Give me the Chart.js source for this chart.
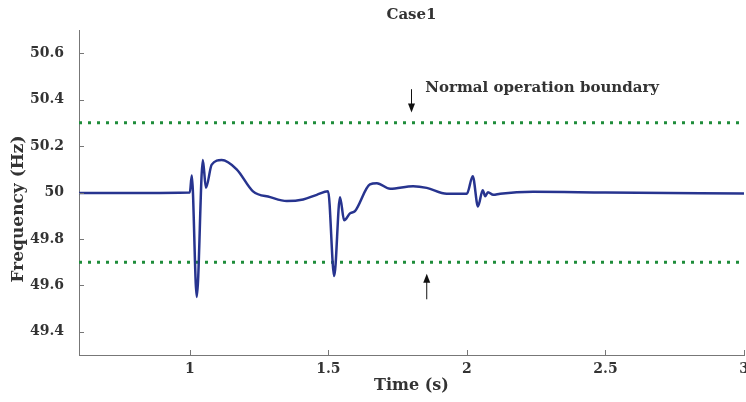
<!DOCTYPE html>
<html>
<head>
<meta charset="utf-8">
<script src="https://cdn.jsdelivr.net/npm/chart.js@4.4.1/dist/chart.umd.min.js"></script>
<style>
  html, body { margin: 0; padding: 0; background: #fff; }
  #wrap { width: 746px; height: 402px; }
</style>
</head>
<body>
<div id="wrap"><canvas id="c"></canvas></div>
<script>
// values
const time = [0.6, 0.8, 1.0, 1.007, 1.025, 1.047, 1.058, 1.079, 1.115, 1.169, 1.228, 1.29, 1.35, 1.409, 1.458, 1.499,
  1.521, 1.542, 1.557, 1.578, 1.596, 1.65, 1.675, 1.723, 1.806, 1.855, 1.927, 2.0, 2.021, 2.04, 2.057, 2.066,
  2.076, 2.095, 2.12, 2.239, 2.5, 3.0];
const freq = [49.998, 49.998, 50.0, 50.073, 49.55, 50.14, 50.02, 50.12, 50.14, 50.10, 50.005, 49.98, 49.963, 49.97, 49.99, 50.005,
  49.64, 49.98, 49.88, 49.91, 49.92, 50.035, 50.04, 50.016, 50.027, 50.02, 49.995, 49.995, 50.07, 49.94, 50.01, 49.984,
  50.001, 49.99, 49.995, 50.003, 50.0, 49.996];
const upperBound = 50.3;
const lowerBound = 49.7;
const xTicks = [1, 1.5, 2, 2.5, 3];
const yTicks = [49.4, 49.6, 49.8, 50, 50.2, 50.4, 50.6];
const titleText = 'Case1';
const yTitle = 'Frequency (Hz)';
const xTitle = 'Time (s)';
const noteText = 'Normal operation boundary';

const serif = '"DejaVu Serif", serif';
const textColor = '#333';

// extra drawing: inward ticks, arrows, note, titles
const extras = {
  id: 'extras',
  afterDraw(chart) {
    const ctx = chart.ctx;
    const xs = chart.scales.x, ys = chart.scales.y;
    const area = chart.chartArea;
    ctx.save();
    // inward tick marks
    ctx.strokeStyle = '#777';
    ctx.lineWidth = 1;
    ctx.beginPath();
    xTicks.forEach(v => {
      const px = Math.round(xs.getPixelForValue(v)) + 0.5;
      ctx.moveTo(px, area.bottom);
      ctx.lineTo(px, area.bottom - 5);
    });
    yTicks.forEach(v => {
      const py = Math.round(ys.getPixelForValue(v)) + 0.5;
      ctx.moveTo(area.left, py);
      ctx.lineTo(area.left + 5, py);
    });
    ctx.stroke();

    // arrows
    function arrow(x, y0, y1) {
      const px = xs.getPixelForValue(x);
      const a = ys.getPixelForValue(y0), b = ys.getPixelForValue(y1);
      const dir = b > a ? 1 : -1;
      ctx.strokeStyle = '#111';
      ctx.fillStyle = '#111';
      ctx.lineWidth = 1;
      ctx.beginPath();
      ctx.moveTo(px, a);
      ctx.lineTo(px, b - dir * 4);
      ctx.stroke();
      ctx.beginPath();
      ctx.moveTo(px, b);
      ctx.lineTo(px - 3.5, b - dir * 9);
      ctx.lineTo(px + 3.5, b - dir * 9);
      ctx.closePath();
      ctx.fill();
    }
    arrow(1.8, 50.445, 50.345);
    arrow(1.855, 49.54, 49.65);

    ctx.fillStyle = textColor;
    ctx.font = 'bold 15px ' + serif;
    ctx.textAlign = 'left';
    ctx.textBaseline = 'middle';
    ctx.fillText(noteText, xs.getPixelForValue(1.85), ys.getPixelForValue(50.448));

    // chart title centred over the plot area
    ctx.textAlign = 'center';
    ctx.font = 'bold 15px ' + serif;
    ctx.fillText(titleText, (area.left + area.right) / 2, 15);

    // y axis title
    ctx.font = 'bold 17px ' + serif;
    ctx.translate(19, 209);
    ctx.rotate(-Math.PI / 2);
    ctx.fillText(yTitle, 0, 0);
    ctx.restore();
  }
};

new Chart(document.getElementById('c'), {
  type: 'line',
  data: {
    datasets: [
      {
        data: time.map((t, i) => ({ x: t, y: freq[i] })),
        borderColor: '#27348f',
        borderWidth: 2.5,
        pointRadius: 0,
        cubicInterpolationMode: 'monotone',
        fill: false,
        order: 1
      },
      {
        data: [{ x: 0.6, y: upperBound }, { x: 3, y: upperBound }],
        borderColor: '#1e8c3a',
        borderWidth: 3,
        borderDash: [3, 6],
        pointRadius: 0,
        fill: false,
        order: 2
      },
      {
        data: [{ x: 0.6, y: lowerBound }, { x: 3, y: lowerBound }],
        borderColor: '#1e8c3a',
        borderWidth: 3,
        borderDash: [3, 6],
        pointRadius: 0,
        fill: false,
        order: 2
      }
    ]
  },
  options: {
    responsive: true,
    maintainAspectRatio: false,
    animation: false,
    layout: { padding: { top: 30, right: 2, left: 0, bottom: 0 } },
    plugins: {
      legend: { display: false },
      tooltip: { enabled: false },
      title: { display: false }
    },
    scales: {
      x: {
        type: 'linear',
        min: 0.6,
        max: 3,
        afterBuildTicks: s => { s.ticks = xTicks.map(v => ({ value: v })); },
        afterFit: s => { s.height = 47; s.paddingLeft = 0; s.paddingRight = 0; },
        grid: { display: false, drawTicks: false },
        border: { display: true, color: '#777', width: 1 },
        ticks: {
          color: textColor,
          font: { family: serif, size: 14, weight: 'bold' },
          padding: 6,
          maxRotation: 0,
          callback: v => String(v)
        },
        title: {
          display: true,
          text: xTitle,
          color: textColor,
          font: { family: serif, size: 16, weight: 'bold' },
          padding: { top: 0, bottom: 7 }
        }
      },
      y: {
        type: 'linear',
        min: 49.3,
        max: 50.7,
        afterBuildTicks: s => { s.ticks = yTicks.map(v => ({ value: v })); },
        afterFit: s => { s.width = 79; },
        grid: { display: false },
        border: { display: true, color: '#777', width: 1 },
        ticks: {
          color: textColor,
          font: { family: serif, size: 14, weight: 'bold' },
          padding: 7,
          callback: v => String(v)
        }
      }
    }
  },
  plugins: [extras]
});
</script>
</body>
</html>
